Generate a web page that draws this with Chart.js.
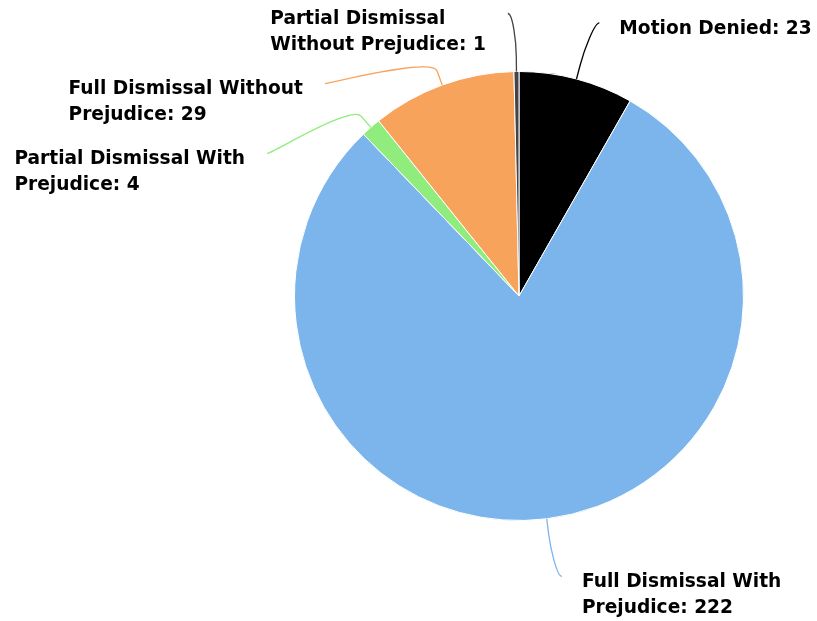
<!DOCTYPE html>
<html>
<head>
<meta charset="utf-8">
<script src="https://cdn.jsdelivr.net/npm/chart.js@4/dist/chart.umd.min.js"></script>
<style>
  html, body { margin: 0; padding: 0; background: #fff; }
  #wrap { width: 817px; height: 621px; position: relative; }
</style>
</head>
<body>
<div id="wrap"><canvas id="ctx"></canvas></div>
<script>
// Slices, clockwise from 12 o'clock
const categories = [
  "Motion Denied",
  "Full Dismissal With Prejudice",
  "Partial Dismissal With Prejudice",
  "Full Dismissal Without Prejudice",
  "Partial Dismissal Without Prejudice"
];
const counts = [23, 222, 4, 29, 1];
const sliceColors = ["#000000", "#7cb5ec", "#90ed7d", "#f7a35c", "#434348"];

const FONT = "bold 18.6px 'DejaVu Sans', sans-serif";
const LINE_H = 26;

// word wrap a label to a max width
const wrapText = (ctx, text, maxW) => {
  const words = text.split(" ");
  let lines = [];
  let cur = "";
  words.forEach((w) => {
    const test = cur ? cur + " " + w : w;
    if (ctx.measureText(test).width > maxW && cur) {
      lines.push(cur);
      cur = w;
    } else {
      cur = test;
    }
  });
  lines.push(cur);
  return lines;
};

// Draws outside labels with soft connectors
const outsideLabels = {
  id: "outsideLabels",
  afterDraw(chart) {
    const ctx = chart.ctx;
    const meta = chart.getDatasetMeta(0);
    const labelDist = 58;
    const breakDist = 15;
    ctx.save();
    ctx.font = FONT;

    let items = meta.data.map((arc, i) => {
      const { x, y, startAngle, endAngle, outerRadius } = arc.getProps(
        ["x", "y", "startAngle", "endAngle", "outerRadius"], true);
      const mid = (startAngle + endAngle) / 2;
      const R = outerRadius + labelDist;
      const text = categories[i] + ": " + counts[i];
      const lines = wrapText(ctx, text, 250);
      return {
        i, cx: x, cy: y, r: outerRadius, R, mid, lines,
        right: Math.cos(mid) >= 0,
        natY: y + R * Math.sin(mid),
        h: lines.length * LINE_H + 18
      };
    });

    // push overlapping labels down on each side
    [true, false].forEach((side) => {
      const list = items.filter((it) => it.right === side).sort((a, b) => a.natY - b.natY);
      list.forEach((it, k) => {
        it.ly = it.natY;
        if (k > 0) it.ly = Math.max(it.ly, list[k - 1].ly + list[k - 1].h);
      });
    });

    items.forEach((it) => {
      const dy = it.ly - it.cy;
      const dx = Math.sqrt(Math.max(it.R * it.R - dy * dy, 0)) + 8;
      const ex = it.cx + (it.right ? dx : -dx);
      const ey = it.ly;
      const tx = it.cx + it.r * Math.cos(it.mid);
      const ty = it.cy + it.r * Math.sin(it.mid);
      const bx = it.cx + (it.r + breakDist) * Math.cos(it.mid);
      const by = it.cy + (it.r + breakDist) * Math.sin(it.mid);

      ctx.strokeStyle = sliceColors[it.i];
      ctx.lineWidth = 1.3;
      ctx.beginPath();
      ctx.moveTo(ex, ey);
      ctx.bezierCurveTo(ex + (it.right ? -5 : 5), ey, 2 * bx - tx, 2 * by - ty, bx, by);
      ctx.lineTo(tx, ty);
      ctx.stroke();

      // text block: left-aligned lines, block sits beside the connector end
      const blockW = Math.max(...it.lines.map((ln) => ctx.measureText(ln).width));
      const lx = it.right ? ex + 20 : ex - 22 - blockW;
      ctx.fillStyle = "#000000";
      ctx.textBaseline = "middle";
      ctx.textAlign = "left";
      it.lines.forEach((ln, k) => {
        ctx.fillText(ln, lx, ey + 6 + k * LINE_H);
      });
    });
    ctx.restore();
  }
};

new Chart(document.getElementById("ctx"), {
  type: "pie",
  data: {
    labels: categories,
    datasets: [{
      data: counts,
      backgroundColor: sliceColors,
      borderColor: "#ffffff",
      borderWidth: 1,
      hoverOffset: 0
    }]
  },
  options: {
    responsive: true,
    maintainAspectRatio: false,
    animation: false,
    layout: { padding: { left: 294, right: 73, top: 71, bottom: 100 } },
    plugins: {
      legend: { display: false },
      tooltip: { enabled: false }
    }
  },
  plugins: [outsideLabels]
});
</script>
</body>
</html>
